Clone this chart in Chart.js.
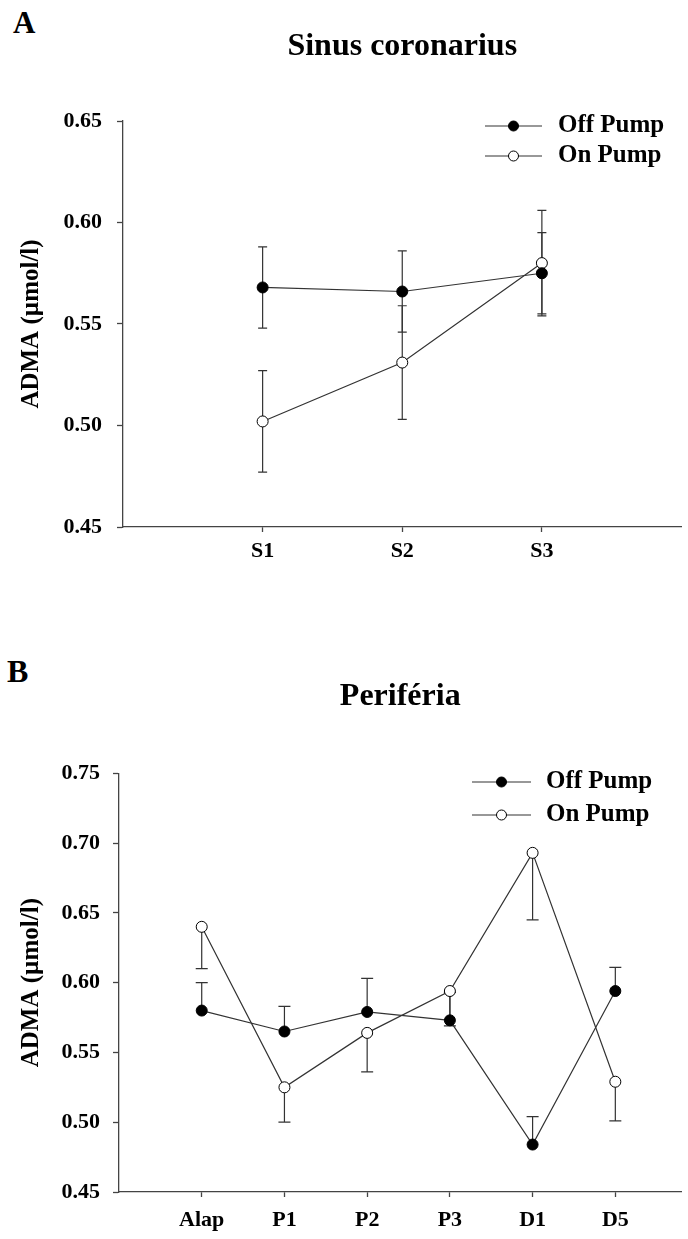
<!DOCTYPE html>
<html>
<head>
<meta charset="utf-8">
<script src="https://cdn.jsdelivr.net/npm/chart.js@4.4.0/dist/chart.umd.min.js"></script>
<style>
body{margin:0;background:#fff;width:688px;height:1239px;position:relative;overflow:hidden;font-family:'Liberation Serif','Times New Roman',serif}
canvas{position:absolute;left:0}
#chartA{top:0}
#chartB{top:600px}
.panel{position:absolute;font-weight:bold;line-height:1;color:#000}
</style>
</head>
<body>
<div class="panel" style="left:13px;top:7px;font-size:31px">A</div>
<div class="panel" style="left:7px;top:655px;font-size:32px">B</div>
<canvas id="chartA" width="688" height="600"></canvas>
<canvas id="chartB" width="688" height="639"></canvas>
<script>
// panel A - sinus coronarius
var sinusLabels = ['S1', 'S2', 'S3'];
var sinusOff = [0.568, 0.566, 0.575];
var sinusOffErr = [0.020, 0.020, 0.020];
var sinusOn = [0.502, 0.531, 0.580];
var sinusOnErr = [0.025, 0.028, 0.026];
var sinusTicks = [0.45, 0.50, 0.55, 0.60, 0.65];

// panel B - periferia
var perLabels = ['Alap', 'P1', 'P2', 'P3', 'D1', 'D5'];
var perOff = [0.580, 0.565, 0.579, 0.573, 0.484, 0.594];
var perOffErrUp = [0.020, 0.018, 0.024, 0.020, 0.020, 0.017];
var perOn = [0.640, 0.525, 0.564, 0.594, 0.693, 0.529];
var perOnErrDown = [0.030, 0.025, 0.028, 0.025, 0.048, 0.028];
var perTicks = [0.45, 0.50, 0.55, 0.60, 0.65, 0.70, 0.75];

var FONT = "'Liberation Serif', 'Times New Roman', serif";
var INK = '#333';
var AXIS = '#444';

function points(values) {
    return values.map(function (v, i) { return {x: i + 1, y: v}; });
}

// error bars, drawn under the markers
var errorBars = {
    id: 'errorBars',
    beforeDatasetsDraw: function (chart, args, opts) {
        var ctx = chart.ctx, xs = chart.scales.x, ys = chart.scales.y;
        var cap = opts.cap || 5;
        ctx.save();
        ctx.strokeStyle = INK;
        ctx.lineWidth = 1.2;
        chart.data.datasets.forEach(function (ds) {
            ds.data.forEach(function (p, i) {
                var x = xs.getPixelForValue(p.x);
                var yTop = ys.getPixelForValue(p.y + (ds.errUp ? ds.errUp[i] : 0));
                var yBot = ys.getPixelForValue(p.y - (ds.errDown ? ds.errDown[i] : 0));
                ctx.beginPath();
                ctx.moveTo(x, yTop);
                ctx.lineTo(x, yBot);
                if (ds.errUp) { ctx.moveTo(x - cap, yTop); ctx.lineTo(x + cap, yTop); }
                if (ds.errDown) { ctx.moveTo(x - cap, yBot); ctx.lineTo(x + cap, yBot); }
                ctx.stroke();
            });
        });
        ctx.restore();
    }
};

// legend with line + marker sample
var lineLegend = {
    id: 'lineLegend',
    afterDraw: function (chart, args, opts) {
        var ctx = chart.ctx;
        ctx.save();
        chart.data.datasets.forEach(function (ds, i) {
            var y = opts.y + i * opts.gap;
            ctx.strokeStyle = INK;
            ctx.lineWidth = 1.2;
            ctx.beginPath();
            ctx.moveTo(opts.x, y);
            ctx.lineTo(opts.x + opts.len, y);
            ctx.stroke();
            ctx.beginPath();
            ctx.arc(opts.x + opts.len / 2, y, 5, 0, Math.PI * 2);
            ctx.fillStyle = ds.pointBackgroundColor;
            ctx.fill();
            ctx.strokeStyle = '#000';
            ctx.lineWidth = 1;
            ctx.stroke();
            ctx.fillStyle = '#000';
            ctx.font = 'bold 25px ' + FONT;
            ctx.textBaseline = 'middle';
            ctx.textAlign = 'left';
            ctx.fillText(ds.label, opts.textX, y);
        });
        ctx.restore();
    }
};

function makeChart(id, cfg) {
    var ctx = document.getElementById(id).getContext('2d');
    return new Chart(ctx, {
        type: 'line',
        data: {
            datasets: [{
                label: 'Off Pump',
                data: points(cfg.off),
                errUp: cfg.offUp,
                errDown: cfg.offDown,
                borderColor: INK,
                borderWidth: 1.2,
                pointRadius: 5.5,
                pointBackgroundColor: '#000',
                pointBorderColor: '#000',
                pointBorderWidth: 1
            }, {
                label: 'On Pump',
                data: points(cfg.on),
                errUp: cfg.onUp,
                errDown: cfg.onDown,
                borderColor: INK,
                borderWidth: 1.2,
                pointRadius: 5.5,
                pointBackgroundColor: '#fff',
                pointBorderColor: '#000',
                pointBorderWidth: 1
            }]
        },
        options: {
            responsive: false,
            animation: false,
            layout: {padding: 0},
            scales: {
                x: {
                    type: 'linear',
                    min: 0,
                    max: cfg.xMax,
                    afterBuildTicks: function (scale) {
                        scale.ticks = cfg.labels.map(function (l, i) { return {value: i + 1}; });
                    },
                    afterFit: function (scale) { scale.height = cfg.xHeight; },
                    ticks: {
                        autoSkip: false,
                        maxRotation: 0,
                        padding: cfg.xPad,
                        color: '#000',
                        font: {family: FONT, size: 22, weight: 'bold'},
                        callback: function (v, i) { return cfg.labels[i]; }
                    },
                    grid: {drawOnChartArea: false, drawTicks: true, tickLength: 5, tickColor: AXIS, tickWidth: 1.3},
                    border: {display: true, color: AXIS, width: 1.3}
                },
                y: {
                    min: cfg.ticks[0],
                    max: cfg.ticks[cfg.ticks.length - 1],
                    afterBuildTicks: function (scale) {
                        scale.ticks = cfg.ticks.map(function (v) { return {value: v}; });
                    },
                    afterFit: function (scale) { scale.width = cfg.yWidth; },
                    ticks: {
                        padding: cfg.yPad,
                        color: '#000',
                        font: {family: FONT, size: 22, weight: 'bold'},
                        callback: function (v) { return v.toFixed(2); }
                    },
                    title: {
                        display: true,
                        text: 'ADMA (µmol/l)',
                        color: '#000',
                        font: {family: FONT, size: 25, weight: 'bold'},
                        padding: {top: 17, bottom: 0}
                    },
                    grid: {drawOnChartArea: false, drawTicks: true, tickLength: 6, tickColor: AXIS, tickWidth: 1.3},
                    border: {display: true, color: AXIS, width: 1.3}
                }
            },
            plugins: {
                legend: {display: false},
                tooltip: {enabled: false},
                title: {
                    display: true,
                    text: cfg.title,
                    fullSize: false,
                    color: '#000',
                    font: {family: FONT, size: 32, weight: 'bold'},
                    padding: cfg.titlePad
                },
                errorBars: {cap: cfg.cap},
                lineLegend: cfg.legend
            }
        },
        plugins: [errorBars, lineLegend]
    });
}

makeChart('chartA', {
    title: 'Sinus coronarius',
    labels: sinusLabels,
    ticks: sinusTicks,
    off: sinusOff, offUp: sinusOffErr, offDown: sinusOffErr,
    on: sinusOn, onUp: sinusOnErr, onDown: sinusOnErr,
    xMax: 4,
    xHeight: 73,
    xPad: 6,
    yWidth: 123,
    yPad: 15,
    cap: 4.5,
    titlePad: {top: 28, bottom: 54.6},
    legend: {x: 485, len: 57, textX: 558, y: 126, gap: 30}
});

makeChart('chartB', {
    title: 'Periféria',
    labels: perLabels,
    ticks: perTicks,
    off: perOff, offUp: perOffErrUp, offDown: null,
    on: perOn, onUp: null, onDown: perOnErrDown,
    xMax: 6.8,
    xHeight: 47,
    xPad: 10,
    yWidth: 119,
    yPad: 13,
    cap: 6,
    titlePad: {top: 78, bottom: 56.9},
    legend: {x: 472, len: 59, textX: 546, y: 182, gap: 33}
});
</script>
</body>
</html>
